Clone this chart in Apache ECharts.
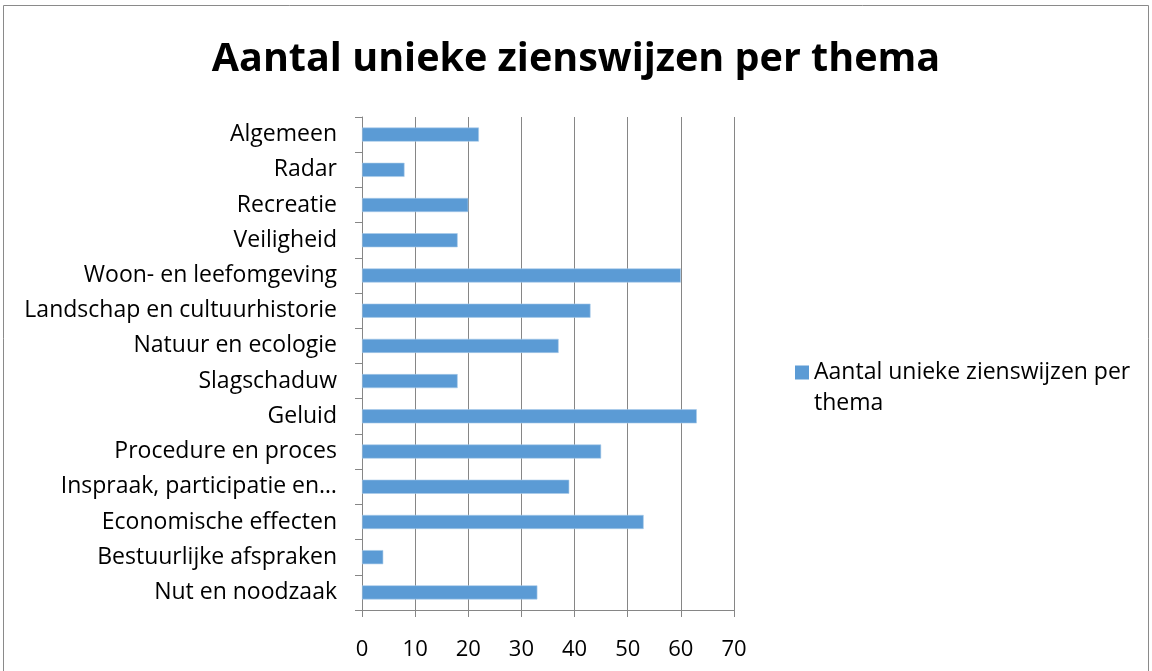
<!DOCTYPE html>
<html>
<head>
<meta charset="utf-8">
<script src="https://cdn.jsdelivr.net/npm/echarts@6/dist/echarts.min.js"></script>
<style>
html,body{margin:0;padding:0;background:#fff;}
#c{width:1152px;height:671px;}
</style>
</head>
<body>
<div id="c"></div>
<script>
const titleText = 'Aantal unieke zienswijzen per thema';
const seriesName = 'Aantal unieke zienswijzen per thema';
// bottom-to-top order (as ECharts category axis draws)
const categories = [
  'Nut en noodzaak',
  'Bestuurlijke afspraken',
  'Economische effecten',
  'Inspraak, participatie en…',
  'Procedure en proces',
  'Geluid',
  'Slagschaduw',
  'Natuur en ecologie',
  'Landschap en cultuurhistorie',
  'Woon- en leefomgeving',
  'Veiligheid',
  'Recreatie',
  'Radar',
  'Algemeen'
];
const values = [33, 4, 53, 39, 45, 63, 18, 37, 43, 60, 18, 20, 8, 22];
const xTicks = { min: 0, max: 70, interval: 10 };

const FONT = 'Open Sans';
const chart = echarts.init(document.getElementById('c'), null, {renderer: 'canvas'});
chart.setOption({
  backgroundColor: '#fff',
  animation: false,
  title: {
    text: titleText,
    left: 'center',
    top: 35,
    textStyle: {fontFamily: FONT, fontWeight: 'bold', fontSize: 39.5, color: '#000'}
  },
  graphic: [{
    type: 'rect',
    shape: {x: 3.5, y: 5.5, width: 1145, height: 680},
    style: {fill: 'none', stroke: '#8a8a8a', lineWidth: 1},
    silent: true
  }],
  legend: {
    left: 790,
    top: 321,
    itemWidth: 14,
    itemHeight: 14,
    icon: 'rect',
    data: [seriesName],
    itemStyle: {borderWidth: 0},
    formatter: function(n){ return ' \nAantal unieke zienswijzen per\nthema'; },
    textStyle: {fontFamily: FONT, fontSize: 23, color: '#000', lineHeight: 31}
  },
  grid: {left: 362, right: 418, top: 117, bottom: 61, containLabel: false},
  xAxis: {
    type: 'value',
    min: xTicks.min, max: xTicks.max, interval: xTicks.interval,
    axisLine: {show: true, lineStyle: {color: '#868686'}},
    axisTick: {show: true, length: 7, lineStyle: {color: '#868686'}},
    splitLine: {show: true, lineStyle: {color: '#868686', width: 1}},
    axisLabel: {fontFamily: FONT, fontSize: 22, color: '#000', margin: 29}
  },
  yAxis: {
    type: 'category',
    data: categories,
    axisLine: {show: true, lineStyle: {color: '#868686'}},
    axisTick: {show: true, length: 7, alignWithLabel: false, lineStyle: {color: '#868686'}},
    axisLabel: {fontFamily: FONT, fontSize: 23, color: '#000', margin: 25}
  },
  series: [{
    name: seriesName,
    type: 'bar',
    data: values,
    barCategoryGap: '60%',
    itemStyle: {color: '#5b9bd5', borderColor: '#a9cbea', borderWidth: 0.6}
  }]
});
</script>
</body>
</html>
